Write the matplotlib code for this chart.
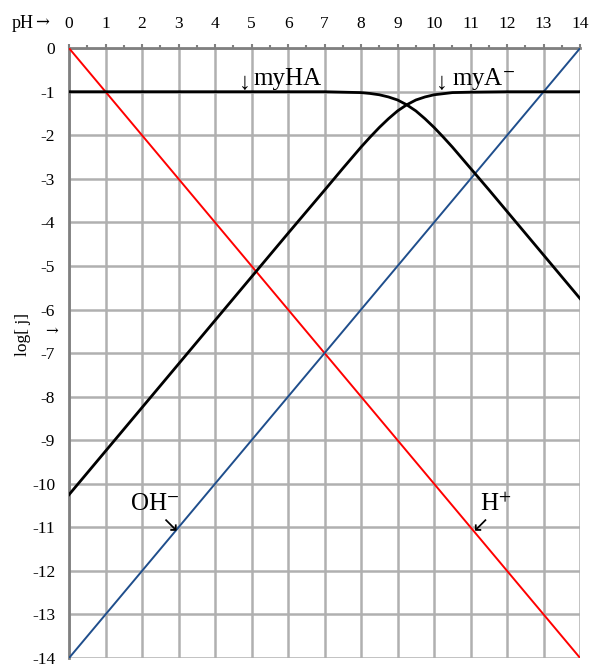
import numpy as np
import matplotlib
matplotlib.use("Agg")
import matplotlib.pyplot as plt

plt.rcParams["font.family"] = ["Liberation Serif", "DejaVu Serif"]
plt.rcParams["mathtext.fontset"] = "stix"
plt.rcParams["axes.unicode_minus"] = False

# pH values and log concentrations
ph_lines = [0, 14]
log_h = [0, -14]
log_oh = [-14, 0]

ph_ha = [0, 1, 2, 3, 4, 5, 6, 7, 7.5, 8, 8.25, 8.5, 8.75, 9, 9.25, 9.5, 9.75, 10,
         10.25, 10.5, 11, 11.5, 12, 13, 14]
log_ha = [-1.0, -1.0, -1.0, -1.0, -1.0, -1.0, -1.0, -1.0, -1.01, -1.02, -1.04, -1.07,
          -1.12, -1.19, -1.30, -1.44, -1.62, -1.82, -2.04, -2.27, -2.76, -3.25,
          -3.75, -4.75, -5.75]

ph_a = [0, 1, 2, 3, 4, 5, 6, 7, 7.5, 8, 8.25, 8.5, 8.75, 9, 9.25, 9.5, 9.75, 10,
        10.5, 11, 12, 13, 14]
log_a = [-10.25, -9.25, -8.25, -7.25, -6.25, -5.25, -4.25, -3.26, -2.76, -2.27,
         -2.04, -1.82, -1.62, -1.44, -1.30, -1.19, -1.12, -1.07, -1.02, -1.01,
         -1.0, -1.0, -1.0]

xticks = list(range(0, 15))
yticks = list(range(0, -15, -1))

fig = plt.figure(figsize=(5.95, 6.69), dpi=100)
ax = fig.add_axes([0.116, 0.0164, 0.859, 0.9116])

ax.plot(ph_lines, log_h, color="#ff0000", lw=1.4, zorder=3)
ax.plot(ph_lines, log_oh, color="#1f4e8c", lw=1.4, zorder=3)
ax.plot(ph_ha, log_ha, color="black", lw=2.0, zorder=4)
ax.plot(ph_a, log_a, color="black", lw=2.0, zorder=4)

ax.set_xlim(0, 14)
ax.set_ylim(-14, 0)
ax.xaxis.tick_top()
ax.set_xticks(xticks)
ax.set_xticks(np.arange(0.5, 14, 1), minor=True)
ax.set_yticks(yticks)
ax.set_yticklabels([str(v) for v in yticks])
ax.tick_params(axis="x", which="major", length=3, width=1.5, color="#808080",
               labelsize=12.5, pad=9)
ax.tick_params(axis="x", which="minor", length=2, width=1.5, color="#808080")
ax.tick_params(axis="y", length=0, labelsize=12.5, pad=10)
ax.grid(True, which="major", color="#b0b0b0", lw=1.8)
ax.set_axisbelow(True)
for side in ["right", "bottom"]:
    ax.spines[side].set_visible(False)
for side in ["left", "top"]:
    ax.spines[side].set_color("#808080")
    ax.spines[side].set_linewidth(2)

ax.text(4.82, -0.93, "↓", fontsize=17, ha="center", va="baseline")
ax.text(5.05, -0.85, "myHA", fontsize=18, va="baseline")
ax.text(10.2, -0.93, "↓", fontsize=17, ha="center", va="baseline")
ax.text(10.49, -0.85, "myA$^{-}$", fontsize=18, va="baseline")
ax.text(1.67, -10.47, "OH$^{-}$", fontsize=18, va="center")
ax.text(2.77, -10.92, "↘", fontsize=15, family="DejaVu Sans",
        ha="center", va="center")
ax.text(11.26, -10.47, "H$^{+}$", fontsize=18, va="center")
ax.text(11.26, -10.92, "↙", fontsize=15, family="DejaVu Sans",
        ha="center", va="center")

fig.text(12 / 595, 1 - 24 / 669, "pH", fontsize=13, va="center")
fig.text(35 / 595, 1 - 23 / 669, "→", fontsize=12, family="DejaVu Serif",
         va="center")
fig.text(23 / 595, 1 - 334 / 669, "log[ j]", fontsize=12.5, rotation=90,
         ha="center", va="center")
fig.text(52 / 595, 1 - 332 / 669, "→", fontsize=11, family="DejaVu Serif",
         ha="center", va="center")

fig.savefig("out.png", dpi=100)
